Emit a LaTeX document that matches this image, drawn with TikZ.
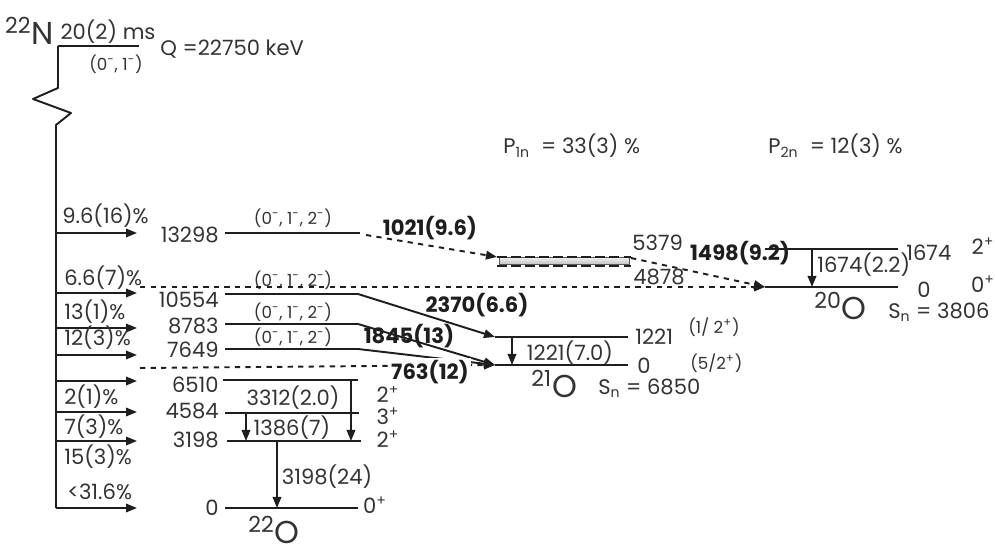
\documentclass[tikz,border=0pt]{standalone}
\usepackage{fontspec}
\setmainfont{Poppins}
\usetikzlibrary{arrows.meta}
\definecolor{ink}{HTML}{1E1E1E}
\definecolor{txtc}{HTML}{333333}
\begin{document}
\begin{tikzpicture}[x=0.02cm,y=-0.02cm,
 every node/.style={inner sep=0pt,text=txtc},
 lab/.style={font=\fontsize{12}{14}\selectfont},
 sm/.style={font=\fontsize{9.5}{11}\selectfont},
 bl/.style={font=\fontsize{12}{14}\selectfont\bfseries,text=ink},
 nuc/.style={font=\fontsize{18}{20}\selectfont},
 lvl/.style={draw=ink,line width=1.1pt},
 tip/.style={-{Triangle[length=0.22cm,width=0.17cm]}},
 tr/.style={lvl,tip},
 dtr/.style={lvl,tip,dash pattern=on 3pt off 3pt},
 dl/.style={draw=ink,line width=1.5pt,dash pattern=on 5.5pt off 2.5pt},
]
\useasboundingbox (0,0) rectangle (995,546);

% ---------- 22N ----------
\node[nuc,anchor=base east] (n22) at (54,45) {\textsuperscript{22}N};
\coordinate (gN0) at (58,46); \coordinate (gN1) at (139,46);
\draw[lvl] (gN0) -- (gN1);
\node[lab,anchor=base] (tN) at (108,40) {20(2) ms};
\node[sm] (jN) at (116,64) {(0\textsuperscript{-}, 1\textsuperscript{-})};
\node[lab,anchor=west] (Q) at (160,49) {Q =22750 keV};
\coordinate (z1) at (58,88); \coordinate (z2) at (33,99);
\coordinate (z3) at (71,113); \coordinate (z4) at (56,125);
\coordinate (stemEnd) at (56,508);
\draw[lvl,line join=round] (gN0) -- (z1) -- (z2) -- (z3) -- (z4) -- (stemEnd);

% ---------- beta branches ----------
\foreach \y/\n in {233/a,293/b,328/c,355/d,381/e,412/f,441/g,508/h}{
  \coordinate (bs\n) at (56,\y); \coordinate (be\n) at (137,\y);
  \draw[tr] (bs\n) -- (be\n);}
\node[lab,anchor=west] (pa) at (62,216) {9.6(16)\%};
\node[lab,anchor=west] (pb) at (64,278) {6.6(7)\%};
\node[lab,anchor=west] (pc) at (64,312) {13(1)\%};
\node[lab,anchor=west] (pd) at (64,338) {12(3)\%};
\node[lab,anchor=west] (pf) at (64,397) {2(1)\%};
\node[lab,anchor=west] (pg) at (64,427) {7(3)\%};
\node[lab,anchor=west] (ph) at (64,457) {15(3)\%};
\node[lab,anchor=west] (pi) at (67,492) {<31.6\%};

% ---------- 22O levels ----------
\foreach \n/\y/\xa/\xb/\ty in {13298/233/225/360/235, 10554/294/225/358/300, 8783/324/225/358/326,
   7649/349/225/358/350, 6510/380/223/358/385, 4584/413/225/359/411, 3198/441/227/361/440, 0/508/225/358/508}{
  \coordinate (L\n a) at (\xa,\y); \coordinate (L\n b) at (\xb,\y);
  \draw[lvl] (L\n a) -- (L\n b);
  \node[lab,anchor=east] (E\n) at (219,\ty) {\n};}
\foreach \n/\y in {a/218,b/280,c/312,d/337}{
  \node[sm] (J\n) at (293,\y) {(0\textsuperscript{-}, 1\textsuperscript{-}, 2\textsuperscript{-})};}
\node[lab] (s6510) at (388,394) {2\textsuperscript{+}};
\node[lab] (s4584) at (388,416) {3\textsuperscript{+}};
\node[lab] (s3198) at (388,439) {2\textsuperscript{+}};
\node[lab] (s0) at (375,505) {0\textsuperscript{+}};
\node[nuc,anchor=base west] (o22) at (248,544) {\textsuperscript{22}O};
% gamma lines in 22O
\coordinate (g1a) at (351,380); \coordinate (g1b) at (351,441);
\coordinate (g2a) at (246,413); \coordinate (g2b) at (246,441);
\coordinate (g3a) at (277,441); \coordinate (g3b) at (277,508);
\draw[tr] (g1a) -- (g1b);
\draw[tr] (g2a) -- (g2b);
\draw[tr] (g3a) -- (g3b);
\node[lab] (t3312) at (293,398) {3312(2.0)};
\node[lab] (t1386) at (292,428) {1386(7)};
\node[lab] (t3198) at (327,477) {3198(24)};

% ---------- 21O ----------
\coordinate (A1a) at (495,337); \coordinate (A1b) at (628,337);
\coordinate (A0a) at (495,365); \coordinate (A0b) at (628,365);
\draw[lvl] (A1a) -- (A1b);
\draw[lvl] (A0a) -- (A0b);
\coordinate (g4a) at (512,337); \coordinate (g4b) at (512,365);
\draw[tr] (g4a) -- (g4b);
\node[lab] (t1221) at (570,353) {1221(7.0)};
\node[lab,anchor=west] (e1221) at (635,337) {1221};
\node[lab,anchor=west] (e21o) at (637,366) {0};
\node[sm,anchor=west] (j1221) at (688,327) {(1/ 2\textsuperscript{+})};
\node[sm,anchor=west] (j21o) at (690,363) {(5/2\textsuperscript{+})};
\node[nuc,anchor=base west] (o21) at (531,398) {\textsuperscript{21}O};
\node[lab,anchor=west] (sn21) at (598,388) {S\textsubscript{n} = 6850};

% neutron branches to 21O
\draw[tr] (L10554b) -- (A1a);
\draw[tr] (L8783b) -- (A0a);
\draw[tr] (L7649b) -- (A0a);
\coordinate (d763) at (140,368);
\draw[dtr] (d763) -- (A0a);
\node[bl] (t2370) at (477,305) {2370(6.6)};
\node[bl] (t1845) at (409,336) {1845(13)};
\node[bl,fill=white,inner sep=1pt] (t763) at (430,372) {763(12)};

% ---------- 5379 state ----------
\coordinate (B1) at (499,257); \coordinate (B2) at (629,264);
\shade[top color=gray!10,bottom color=gray!45,draw=gray!70!black,line width=0.5pt] (B1) rectangle (B2);
\coordinate (Bt1) at (497,257); \coordinate (Bt2) at (631,257);
\coordinate (Bb1) at (497,266); \coordinate (Bb2) at (631,266);
\draw[dl] (Bt1) -- (Bt2);
\draw[dl] (Bb1) -- (Bb2);
\node[lab,anchor=west] (e5379) at (632,243) {5379};
\node[lab,anchor=west] (e4878) at (633,277) {4878};
\coordinate (L13298c) at (366,235);
\draw[dtr] (L13298c) -- (Bt1);
\node[bl] (t1021) at (430,228) {1021(9.6)};

% ---------- 20O ----------
\coordinate (C1a) at (765,249); \coordinate (C1b) at (898,249);
\coordinate (C0a) at (765,287); \coordinate (C0b) at (898,287);
\draw[lvl] (C1a) -- (C1b);
\draw[lvl] (C0a) -- (C0b);
\coordinate (g5a) at (812,249); \coordinate (g5b) at (812,287);
\draw[tr] (g5a) -- (g5b);
\node[lab,anchor=west] (t1674) at (817,265) {1674(2.2)};
\node[lab,anchor=west] (e1674) at (906,253) {1674};
\node[lab,anchor=west] (e20o) at (917,290) {0};
\node[lab] (s1674) at (983,246) {2\textsuperscript{+}};
\node[lab] (s20o) at (983,284) {0\textsuperscript{+}};
\node[nuc,anchor=base west] (o20) at (814,320) {\textsuperscript{20}O};
\node[lab,anchor=west] (sn20) at (888,312) {S\textsubscript{n} = 3806};
% branches to 20O
\coordinate (d66) at (140,287);
\draw[dtr] (d66) -- (C0a);
\coordinate (Bout) at (631,258);
\draw[dtr] (Bout) -- (C0a);
\node[bl] (t1498) at (740,253) {1498(9.2)};

% ---------- P values ----------
\node[lab,anchor=west] (p1n) at (503,146) {P\textsubscript{1n}~~=~33(3)~\%};
\node[lab,anchor=west] (p2n) at (768,146) {P\textsubscript{2n}~~=~12(3)~\%};
\end{tikzpicture}
\end{document}
